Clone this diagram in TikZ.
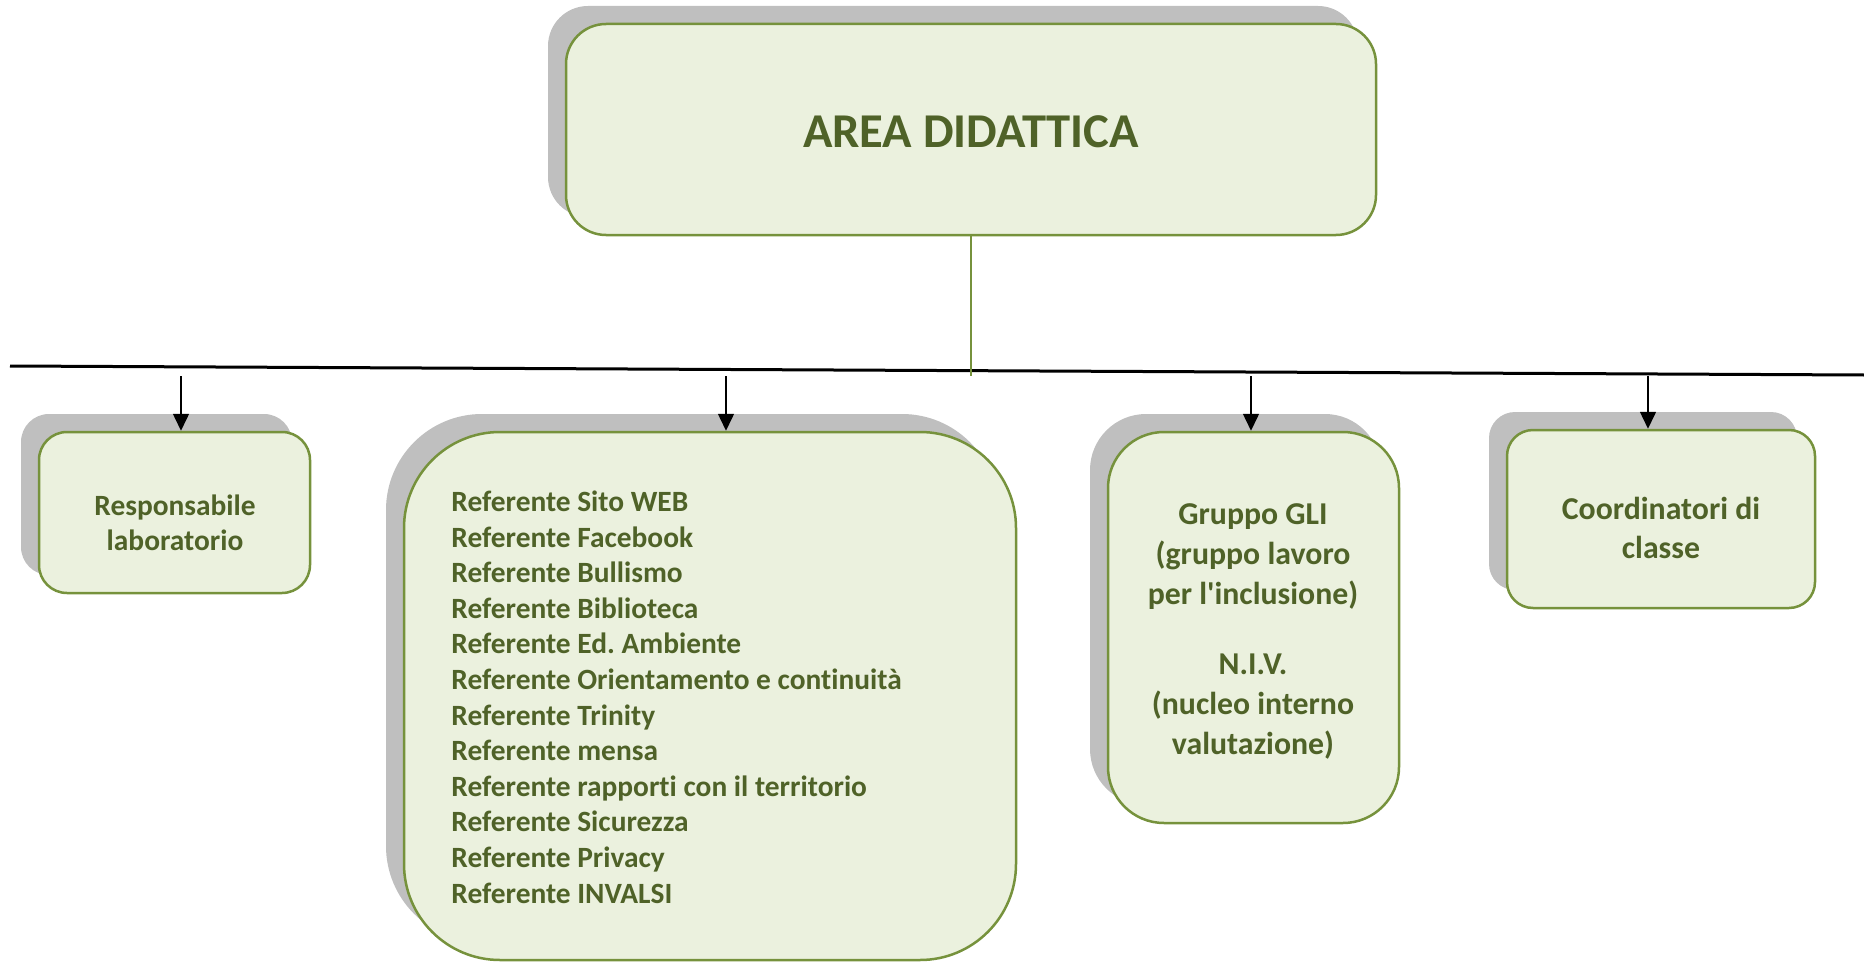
\documentclass[tikz,border=0pt]{standalone}
\usepackage{fontspec}
\setmainfont{Carlito}[Ligatures={TeX,NoCommon}]
\usetikzlibrary{arrows.meta,shadows}
\definecolor{boxfill}{HTML}{EBF1DE}
\definecolor{boxline}{HTML}{76923C}
\definecolor{txtgreen}{HTML}{4F6228}
\definecolor{shadowgray}{HTML}{BFBFBF}
\frenchspacing
\begin{document}
\begin{tikzpicture}[x=0.5pt,y=-0.5pt,
  orgbox/.style={draw=boxline, line width=1.25pt, fill=boxfill, inner sep=0pt,
    general shadow={fill=shadowgray, shadow xshift=-9pt, shadow yshift=9pt}},
  lbl/.style={text=txtgreen, inner sep=0pt},
  arr/.style={-{Triangle[width=8pt,length=8.5pt]}, line width=0.75pt},
  hline/.style={line width=1.5pt},
  vline/.style={draw=boxline, line width=1pt}]
\useasboundingbox (0,0) rectangle (1864,963);

% top box
\node[orgbox, rounded corners=20pt, minimum width=405pt, minimum height=105.5pt] (top) at (971,129.5) {};
\node[lbl, font=\bfseries\fontsize{24.3pt}{29pt}\selectfont] (toptxt) at (971,131.5) {AREA DIDATTICA};

% bus line
\coordinate (hl) at (10,366);
\coordinate (hr) at (1864,375);
\draw[hline] (hl) -- (hr);
\coordinate (vj) at (971,376);
\draw[vline] (top) -- (vj);

% child boxes
\node[orgbox, rounded corners=14pt, minimum width=135.5pt, minimum height=80.5pt] (b1) at (174.5,512.5) {};
\node[orgbox, rounded corners=48pt, minimum width=306pt, minimum height=264pt] (b2) at (710,696) {};
\node[orgbox, rounded corners=28pt, minimum width=145.5pt, minimum height=195.5pt] (b3) at (1253.5,627.5) {};
\node[orgbox, rounded corners=13pt, minimum width=154pt, minimum height=89pt] (b4) at (1661,519) {};

% texts
\node[lbl, align=center, font=\bfseries\fontsize{14.7pt}{17.5pt}\selectfont] (t1) at (175,522.5)
  {Responsabile\\laboratorio};
\node[lbl, align=left, anchor=west, font=\bfseries\fontsize{14.7pt}{17.8pt}\selectfont] (t2) at (451,697)
  {Referente Sito WEB\\
   Referente Facebook\\
   Referente Bullismo\\
   Referente Biblioteca\\
   Referente Ed. Ambiente\\
   Referente Orientamento e continuità\\
   Referente Trinity\\
   Referente mensa\\
   Referente rapporti con il territorio\\
   Referente Sicurezza\\
   Referente Privacy\\
   Referente INVALSI};
\node[lbl, align=center, font=\bfseries\fontsize{15.9pt}{20pt}\selectfont] (t3) at (1253,631)
  {Gruppo GLI\\(gruppo lavoro\\per l\textquotesingle inclusione)\\[15pt]N.I.V.\\(nucleo interno\\valutazione)};
\node[lbl, align=center, font=\bfseries\fontsize{15.9pt}{19.5pt}\selectfont] (t4) at (1661,527.5)
  {Coordinatori di\\classe};

% arrows
\coordinate (a1) at (181,376);
\coordinate (a2) at (726,376);
\coordinate (a3) at (1251,376);
\coordinate (a4) at (1648,376);
\draw[arr] (a1) -- (a1 |- b1.north);
\draw[arr] (a2) -- (a2 |- b2.north);
\draw[arr] (a3) -- (a3 |- b3.north);
\draw[arr] (a4) -- (a4 |- b4.north);
\end{tikzpicture}
\end{document}
